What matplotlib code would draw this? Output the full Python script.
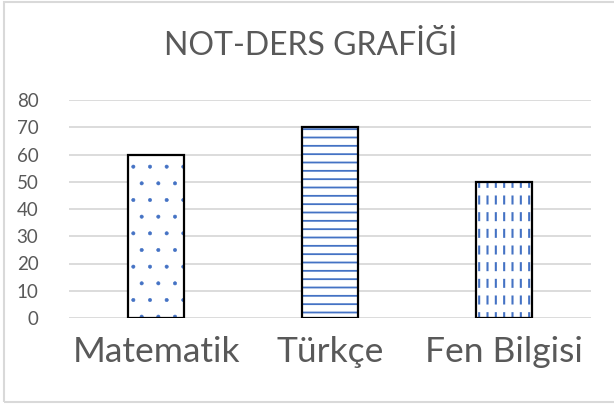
import matplotlib
matplotlib.use("Agg")
import matplotlib.pyplot as plt
from matplotlib.patches import Rectangle

CATEGORIES = ["Matematik", "Türkçe", "Fen Bilgisi"]
NOTES = [60, 70, 50]
HATCHES = [".", "--", "||"]
Y_TICKS = [0, 10, 20, 30, 40, 50, 60, 70, 80]
TITLE = "NOT-DERS GRAFİĞİ"

TEXT_COLOR = "#595959"
GRID_COLOR = "#d9d9d9"
HATCH_BLUE = "#4472c4"

plt.rcParams["font.family"] = ["Lato", "DejaVu Sans"]

W, H = 614, 408
fig = plt.figure(figsize=(W / 100, H / 100), dpi=100)
ax = fig.add_axes([69 / W, 1 - 318 / H, (591 - 69) / W, (318 - 100) / H])

# outer chart border
fig.patches.append(Rectangle((4 / W, 1 - 402 / H), (W + 10) / W, 400 / H,
                             transform=fig.transFigure, fill=False,
                             edgecolor=GRID_COLOR, linewidth=1.5))

HATCH_LW = {".": 0.4, "--": 1.3, "||": 1.5}

width = 0.32
for i, (val, hatch) in enumerate(zip(NOTES, HATCHES)):
    with plt.rc_context({"hatch.linewidth": HATCH_LW[hatch]}):
        ax.bar(i, val, width, facecolor="white", edgecolor=HATCH_BLUE,
               hatch=hatch, linewidth=0, zorder=2)
    if hatch == "||":
        # white horizontal hatch on top to break the lines into dashes
        with plt.rc_context({"hatch.linewidth": 5.5}):
            ax.bar(i, val, width, facecolor="none", edgecolor="white",
                   hatch="-", linewidth=0, zorder=3)
    ax.bar(i, val, width, facecolor="none", edgecolor="black",
           linewidth=1.6, zorder=4)

ax.set_xlim(-0.5, 2.5)
ax.set_ylim(0, 80)
ax.set_yticks(Y_TICKS)
ax.set_xticks(range(len(CATEGORIES)))
ax.set_xticklabels(CATEGORIES, fontsize=25.5, color=TEXT_COLOR)
ax.tick_params(axis="x", length=0, pad=13)
ax.tick_params(axis="y", length=0, pad=22, labelsize=13.5, labelcolor=TEXT_COLOR)
for s in ax.spines.values():
    s.set_visible(False)
ax.yaxis.grid(True, color=GRID_COLOR, linewidth=1.3, zorder=0)
ax.set_axisbelow(True)

fig.text(311 / W, 1 - 46 / H, TITLE, fontsize=23, color=TEXT_COLOR,
         ha="center", va="center")

fig.savefig("out.png", dpi=100)
